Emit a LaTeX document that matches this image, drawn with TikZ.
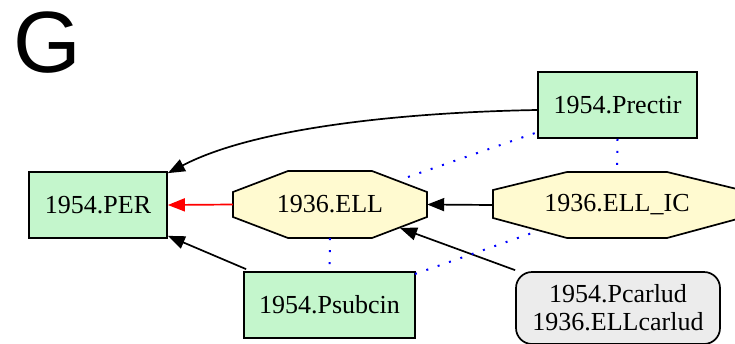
\documentclass[tikz,border=0pt]{standalone}
\usepackage{fontspec}
\setmainfont{Liberation Serif}
\newfontfamily\labfont{Liberation Sans}
\usetikzlibrary{arrows.meta,calc}
\definecolor{boxgreen}{RGB}{196,246,204}
\definecolor{octyellow}{RGB}{255,250,208}
\definecolor{boxgray}{RGB}{236,236,236}
\tikzset{
  txt/.style={font=\fontsize{26}{28}\selectfont, inner sep=0pt, align=center},
  gbox/.style={txt, draw=black, line width=1.7pt, fill=boxgreen},
  octnode/.style={txt, draw=none},
  octshape/.style={draw=black, line width=1.7pt, fill=octyellow},
  rbox/.style={txt, draw=black, line width=1.7pt, fill=boxgray, rounded corners=16pt},
  edge/.style={line width=1.7pt, -{Triangle[length=17pt,width=13pt]}},
  dotb/.style={blue, line width=2pt, dash pattern=on 2pt off 10pt}
}
\begin{document}
\begin{tikzpicture}[x=1pt,y=-1pt]
\useasboundingbox (0,0) rectangle (735,343);
\clip (0,0) rectangle (735,343);
\fill[white] (0,0) rectangle (735,343);
% G label
\node[font=\labfont\fontsize{87}{87}\selectfont, anchor=base west, inner sep=0pt] (glabel) at (13,72) {G};
% octagon shapes
\path[octshape] (288,171) -- (372,171) -- (427,192) -- (427,217) -- (372,238) -- (288,238) -- (233,217) -- (233,192) -- cycle;
\path[octshape] (567,172) -- (667,172) -- (741,190) -- (741,218) -- (667,238) -- (567,238) -- (493,218) -- (493,190) -- cycle;
% nodes
\node[gbox, minimum width=138pt, minimum height=66pt] (per) at (98,205) {1954.PER};
\node[octnode, minimum width=194pt, minimum height=67pt] (ell) at (330,204.5) {1936.ELL};
\node[octnode, minimum width=248pt, minimum height=66pt] (ellic) at (617,205) {1936.ELL\_IC};
\node[gbox, minimum width=159pt, minimum height=66pt] (prectir) at (617.5,105) {1954.Prectir};
\node[gbox, minimum width=171pt, minimum height=66pt] (psubcin) at (329.5,305) {1954.Psubcin};
\node[rbox, minimum width=204pt, minimum height=72pt] (pcarlud) at (618,308) {1954.Pcarlud\\1936.ELLcarlud};
% coordinates on borders
\coordinate (perNE) at ($(per.north east)+(0,2)$);
\coordinate (perSE) at ($(per.south east)+(0,-3)$);
\coordinate (ellSE) at (400,228);
\coordinate (ellNE) at (408,177);
\coordinate (prectirSW) at (538,132);
\coordinate (psubcinNE) at (415,274);
\coordinate (ellicSW) at (532,233);
% edges
\draw[edge, red] (ell.west) -- (per.east);
\draw[edge] (prectir.west |- 0,110) .. controls (420,112) and (260,125) .. (perNE);
\draw[edge] ($(psubcin.north west)+(3,-2)$) -- (perSE);
\draw[edge] (ellic.west) -- (ell.east);
\draw[edge] ($(pcarlud.north west)+(0,-1)$) -- (ellSE);
% dotted
\draw[dotb] (ellNE) -- (prectirSW);
\draw[dotb] (prectir.south) -- (ellic.north);
\draw[dotb] (ell.south) -- (psubcin.north);
\draw[dotb] (psubcinNE) -- (ellicSW);
\end{tikzpicture}
\end{document}
